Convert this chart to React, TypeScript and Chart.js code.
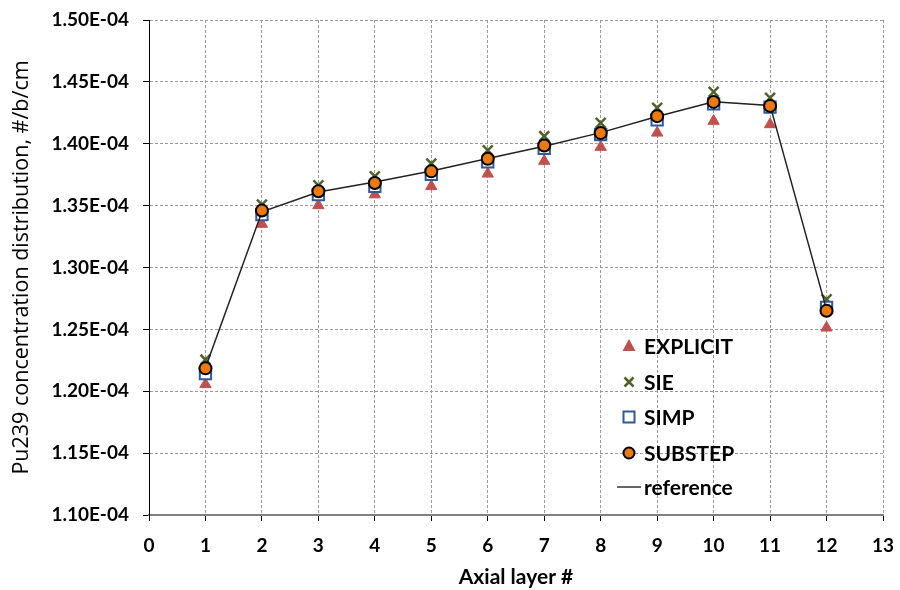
import React, { useEffect, useRef } from 'react';
import { Chart, registerables } from 'chart.js';

Chart.register(...registerables);

// ---- data ----
const layers = [1, 2, 3, 4, 5, 6, 7, 8, 9, 10, 11, 12];
const explicitVals = [1.2056e-4, 1.3351e-4, 1.3502e-4, 1.3589e-4, 1.3656e-4, 1.3757e-4, 1.386e-4, 1.3973e-4, 1.4088e-4, 1.4183e-4, 1.4156e-4, 1.2513e-4];
const sieVals = [1.2255e-4, 1.3508e-4, 1.3664e-4, 1.3737e-4, 1.384e-4, 1.3946e-4, 1.4061e-4, 1.4169e-4, 1.429e-4, 1.4419e-4, 1.4371e-4, 1.2742e-4];
const simpVals = [1.2142e-4, 1.3427e-4, 1.3589e-4, 1.3656e-4, 1.3753e-4, 1.3854e-4, 1.3962e-4, 1.4075e-4, 1.4193e-4, 1.4322e-4, 1.4296e-4, 1.2677e-4];
const substepVals = [1.2185e-4, 1.346e-4, 1.3616e-4, 1.3683e-4, 1.3777e-4, 1.3878e-4, 1.3986e-4, 1.4086e-4, 1.4223e-4, 1.4338e-4, 1.4306e-4, 1.265e-4];
const referenceVals = [1.219e-4, 1.345e-4, 1.361e-4, 1.369e-4, 1.378e-4, 1.388e-4, 1.398e-4, 1.409e-4, 1.422e-4, 1.434e-4, 1.431e-4, 1.266e-4];

const yTickValues = [1.1e-4, 1.15e-4, 1.2e-4, 1.25e-4, 1.3e-4, 1.35e-4, 1.4e-4, 1.45e-4, 1.5e-4];
const yTickLabels = ['1.10E-04', '1.15E-04', '1.20E-04', '1.25E-04', '1.30E-04', '1.35E-04', '1.40E-04', '1.45E-04', '1.50E-04'];
const xMin = 0;
const xMax = 13;

const seriesNames = ['EXPLICIT', 'SIE', 'SIMP', 'SUBSTEP', 'reference'];

const FONT = 'Lato, "Open Sans", "DejaVu Sans", sans-serif';
const TITLE_FONT = '"Open Sans", Lato, "DejaVu Sans", sans-serif';
const RED = '#C0504D';
const GREEN = '#4F6228';
const BLUE = '#2F5A9A';
const ORANGE = '#EE7A0E';
const GRID = '#9A9A9A';

const toPts = (vals: number[]) => vals.map((v, i) => ({ x: layers[i], y: v }));

const legendPlugin = {
  id: 'insideLegend',
  afterDraw(chart: any) {
    const ctx = chart.ctx as CanvasRenderingContext2D;
    const symX = 629;
    const textX = 644;
    const rows = [346, 382, 417, 453, 487];
    ctx.save();
    ctx.font = `bold 21px ${FONT}`;
    ctx.fillStyle = '#000';
    ctx.textBaseline = 'middle';
    ctx.textAlign = 'left';
    rows.forEach((y, i) => {
      const name = seriesNames[i];
      ctx.save();
      if (name === 'EXPLICIT') {
        ctx.fillStyle = RED;
        ctx.beginPath();
        ctx.moveTo(symX, y - 7);
        ctx.lineTo(symX + 6.5, y + 5);
        ctx.lineTo(symX - 6.5, y + 5);
        ctx.closePath();
        ctx.fill();
      } else if (name === 'SIE') {
        ctx.strokeStyle = GREEN;
        ctx.lineWidth = 2.5;
        ctx.beginPath();
        ctx.moveTo(symX - 4.5, y - 4.5);
        ctx.lineTo(symX + 4.5, y + 4.5);
        ctx.moveTo(symX + 4.5, y - 4.5);
        ctx.lineTo(symX - 4.5, y + 4.5);
        ctx.stroke();
      } else if (name === 'SIMP') {
        ctx.strokeStyle = BLUE;
        ctx.fillStyle = '#fff';
        ctx.lineWidth = 2;
        ctx.beginPath();
        ctx.rect(symX - 5.5, y - 5.5, 11, 11);
        ctx.fill();
        ctx.stroke();
      } else if (name === 'SUBSTEP') {
        ctx.fillStyle = ORANGE;
        ctx.strokeStyle = '#000';
        ctx.lineWidth = 2;
        ctx.beginPath();
        ctx.arc(symX, y, 5.5, 0, Math.PI * 2);
        ctx.fill();
        ctx.stroke();
      } else {
        ctx.strokeStyle = '#333';
        ctx.lineWidth = 1.5;
        ctx.beginPath();
        ctx.moveTo(symX - 12, y);
        ctx.lineTo(symX + 12, y);
        ctx.stroke();
      }
      ctx.restore();
      ctx.fillText(name, textX, y + 1);
    });
    ctx.restore();
  },
};

export default function App() {
  const ref = useRef<HTMLCanvasElement | null>(null);

  useEffect(() => {
    if (!ref.current) return;
    const tickFont = { family: FONT, size: 19, weight: 'bold' as const };
    const chart = new Chart(ref.current, {
      type: 'scatter',
      data: {
        datasets: [
          {
            label: 'SUBSTEP',
            data: toPts(substepVals),
            pointStyle: 'circle',
            pointRadius: 6,
            pointHoverRadius: 6,
            backgroundColor: ORANGE,
            borderColor: '#000',
            borderWidth: 2,
            showLine: false,
            order: 0,
          },
          {
            label: 'reference',
            data: toPts(referenceVals),
            showLine: true,
            pointRadius: 0,
            borderColor: '#222',
            borderWidth: 1.5,
            backgroundColor: '#222',
            order: 1,
          },
          {
            label: 'SIMP',
            data: toPts(simpVals),
            pointStyle: 'rect',
            pointRadius: 8,
            backgroundColor: '#fff',
            borderColor: BLUE,
            borderWidth: 2,
            showLine: false,
            order: 2,
          },
          {
            label: 'SIE',
            data: toPts(sieVals),
            pointStyle: 'crossRot',
            pointRadius: 7,
            borderColor: GREEN,
            backgroundColor: GREEN,
            borderWidth: 2.5,
            showLine: false,
            order: 3,
          },
          {
            label: 'EXPLICIT',
            data: toPts(explicitVals),
            pointStyle: 'triangle',
            pointRadius: 6.5,
            backgroundColor: RED,
            borderColor: RED,
            borderWidth: 1,
            showLine: false,
            order: 4,
          },
        ],
      },
      options: {
        animation: false,
        responsive: false,
        devicePixelRatio: 1,
        layout: { padding: { top: 20, right: 17, bottom: 0, left: 0 } },
        plugins: {
          legend: { display: false },
          tooltip: { enabled: false },
        },
        scales: {
          x: {
            type: 'linear',
            min: xMin,
            max: xMax,
            ticks: { stepSize: 1, font: tickFont, color: '#000', padding: 13, maxRotation: 0, autoSkip: false },
            grid: { color: GRID, lineWidth: 1, tickLength: 6, tickColor: '#000', tickWidth: 1, tickBorderDash: [] },
            border: { color: '#808080', width: 2, dash: [3, 2] },
            title: {
              display: true,
              text: 'Axial layer #',
              font: { family: FONT, size: 21, weight: 'bold' },
              color: '#000',
              padding: { top: 0, bottom: 0 },
            },
            afterFit: (s: any) => {
              s.height = 75;
              s.paddingLeft = 0;
              s.paddingRight = 0;
            },
          },
          y: {
            type: 'linear',
            min: yTickValues[0],
            max: yTickValues[yTickValues.length - 1],
            afterBuildTicks: (s: any) => {
              s.ticks = yTickValues.map((v) => ({ value: v }));
            },
            ticks: {
              font: tickFont,
              color: '#000',
              padding: 14,
              callback: (v: any) => {
                let best = 0;
                yTickValues.forEach((t, i) => {
                  if (Math.abs(t - v) < Math.abs(yTickValues[best] - v)) best = i;
                });
                return yTickLabels[best];
              },
            },
            grid: { color: GRID, lineWidth: 1, tickLength: 6, tickColor: '#000', tickWidth: 1, tickBorderDash: [] },
            border: { color: '#000', width: 1, dash: [3, 2] },
            title: {
              display: true,
              text: 'Pu239 concentration distribution, #/b/cm',
              font: { family: TITLE_FONT, size: 21.5, weight: 'normal' },
              color: '#000',
              padding: { top: 9, bottom: 0 },
            },
            afterFit: (s: any) => {
              s.width = 149;
              s.paddingTop = 0;
              s.paddingBottom = 0;
            },
          },
        },
      },
      plugins: [legendPlugin],
    });
    return () => chart.destroy();
  }, []);

  return (
    <div style={{ position: 'fixed', left: 0, top: 0, width: 900, height: 590, background: '#fff' }}>
      <canvas ref={ref} width={900} height={590} style={{ width: 900, height: 590, display: 'block' }} />
    </div>
  );
}
